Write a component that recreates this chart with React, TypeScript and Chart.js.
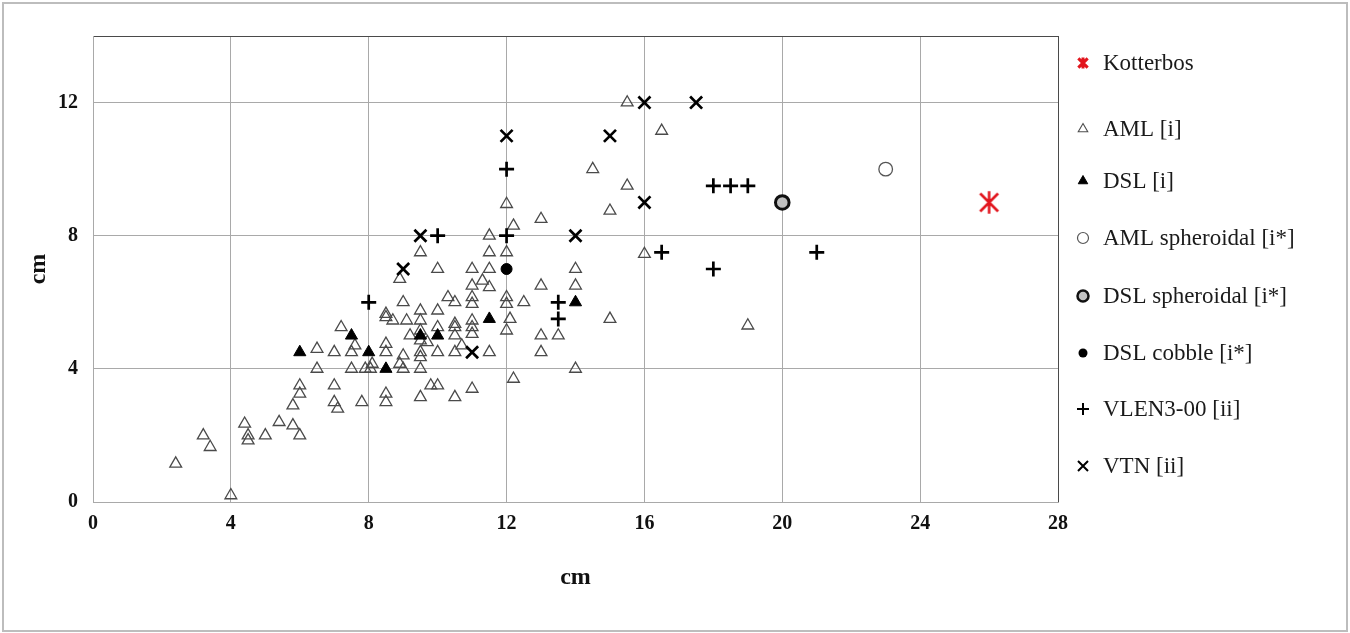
import React, { useEffect, useRef } from 'react';
import { Chart, registerables } from 'chart.js';

Chart.register(...registerables);

type Pt = [number, number];

// Series values (length, width in cm)
const kotterbos: Pt[] = [[26, 9]];

const amlI: Pt[] = [
  [2.4, 1.15], [3.2, 2.0], [3.4, 1.65], [4, 0.2], [4.4, 2.35], [4.5, 2.0], [4.5, 1.85],
  [5, 2.0], [5.4, 2.4], [5.8, 2.3], [5.8, 2.9], [6, 2.0], [6, 3.25], [6, 3.5],
  [6.5, 4.0], [6.5, 4.6], [7, 3.0], [7, 3.5], [7, 4.5], [7.1, 2.8], [7.2, 5.25],
  [7.5, 4.0], [7.5, 4.5], [7.6, 4.7], [7.8, 3.0], [7.9, 4.0], [8.05, 4.0], [8.1, 4.15],
  [8.5, 3.0], [8.5, 3.25], [8.5, 4.5], [8.5, 4.75], [8.5, 5.55], [8.5, 5.65], [8.7, 5.45],
  [8.9, 4.15], [8.9, 6.7], [9, 4.0], [9, 4.4], [9, 6.0], [9.1, 5.45], [9.2, 5.0],
  [9.5, 3.15], [9.5, 4.0], [9.5, 4.35], [9.5, 4.5], [9.5, 4.85], [9.5, 5.15], [9.5, 5.45],
  [9.5, 5.75], [9.5, 7.5], [9.7, 4.8], [9.8, 3.5], [10, 3.5], [10, 4.5], [10, 5.25],
  [10, 5.75], [10, 7.0], [10.3, 6.15], [10.5, 3.15], [10.5, 4.5], [10.5, 5.0], [10.5, 5.25],
  [10.5, 5.35], [10.5, 6.0], [10.7, 4.7], [11, 3.4], [11, 5.05], [11, 5.25], [11, 5.45],
  [11, 5.95], [11, 6.15], [11, 6.5], [11, 7.0], [11.3, 6.65], [11.5, 4.5], [11.5, 6.45],
  [11.5, 7.0], [11.5, 7.5], [11.5, 8.0], [12, 5.15], [12, 5.95], [12, 6.15], [12, 7.5],
  [12, 8.95], [12.1, 5.5], [12.2, 3.7], [12.2, 8.3], [12.5, 6.0], [13, 4.5], [13, 5.0],
  [13, 6.5], [13, 8.5], [13.5, 5.0], [14, 4.0], [14, 6.5], [14, 7.0], [14.5, 10.0],
  [15, 5.5], [15, 8.75], [15.5, 9.5], [15.5, 12.0], [16, 7.45], [16.5, 11.15], [19, 5.3],
];

const dslI: Pt[] = [
  [6, 4.5], [7.5, 5.0], [8, 4.5], [8.5, 4.0], [9.5, 5.0], [10, 5.0], [11.5, 5.5], [14, 6.0],
];

const amlSpheroidal: Pt[] = [[23, 10]];
const dslSpheroidal: Pt[] = [[20, 9]];
const dslCobble: Pt[] = [[12, 7]];

const vlen: Pt[] = [
  [8, 6], [10, 8], [12, 8], [12, 10], [13.5, 5.5], [13.5, 6], [16.5, 7.5],
  [18, 7], [18, 9.5], [18.5, 9.5], [19, 9.5], [21, 7.5],
];

const vtn: Pt[] = [
  [9, 7], [9.5, 8], [11, 4.5], [12, 11], [14, 8], [15, 11], [16, 9], [16, 12], [17.5, 12],
];

const legendLabels = [
  'Kotterbos', 'AML [i]', 'DSL [i]', 'AML spheroidal [i*]',
  'DSL spheroidal [i*]', 'DSL cobble [i*]', 'VLEN3-00 [ii]', 'VTN [ii]',
];

const xTicks = [0, 4, 8, 12, 16, 20, 24, 28];
const yTicks = [0, 4, 8, 12];

const RED = '#e2161e';
const GRID = '#a9a9a9';
const DARK = '#4a4a4a';
const SERIF = '"Liberation Serif", "Times New Roman", serif';

function makeAsterisk(size: number, color: string, lw: number, spread: number): HTMLCanvasElement {
  const c = document.createElement('canvas');
  c.width = size;
  c.height = size;
  const g = c.getContext('2d')!;
  const m = size / 2;
  const r = size / 2 - lw / 2;
  g.strokeStyle = color;
  g.lineWidth = lw;
  g.lineCap = 'butt';
  g.beginPath();
  g.moveTo(m, m - r);
  g.lineTo(m, m + r);
  const d = r * spread;
  g.moveTo(m - d, m - d);
  g.lineTo(m + d, m + d);
  g.moveTo(m + d, m - d);
  g.lineTo(m - d, m + d);
  g.stroke();
  return c;
}

function toXY(pts: Pt[]) {
  return pts.map(([x, y]) => ({ x, y }));
}

function drawLegendMarker(ctx: CanvasRenderingContext2D, i: number, x: number, y: number, star: HTMLCanvasElement) {
  ctx.save();
  ctx.lineJoin = 'miter';
  switch (i) {
    case 0:
      ctx.drawImage(star, x - star.width / 2, y - star.height / 2);
      break;
    case 1:
    case 2: {
      const r = 5.5;
      ctx.beginPath();
      ctx.moveTo(x, y - r);
      ctx.lineTo(x + r * 0.866, y + r * 0.5);
      ctx.lineTo(x - r * 0.866, y + r * 0.5);
      ctx.closePath();
      if (i === 1) {
        ctx.strokeStyle = '#4d4d4d';
        ctx.lineWidth = 1.1;
        ctx.stroke();
      } else {
        ctx.fillStyle = '#000';
        ctx.fill();
        ctx.strokeStyle = '#000';
        ctx.lineWidth = 1;
        ctx.stroke();
      }
      break;
    }
    case 3:
      ctx.beginPath();
      ctx.arc(x, y, 5.5, 0, Math.PI * 2);
      ctx.strokeStyle = '#555';
      ctx.lineWidth = 1.2;
      ctx.stroke();
      break;
    case 4:
      ctx.beginPath();
      ctx.arc(x, y, 5.5, 0, Math.PI * 2);
      ctx.fillStyle = '#c2c2c2';
      ctx.fill();
      ctx.strokeStyle = '#111';
      ctx.lineWidth = 2.5;
      ctx.stroke();
      break;
    case 5:
      ctx.beginPath();
      ctx.arc(x, y, 4.5, 0, Math.PI * 2);
      ctx.fillStyle = '#000';
      ctx.fill();
      break;
    case 6:
      ctx.beginPath();
      ctx.moveTo(x - 6, y);
      ctx.lineTo(x + 6, y);
      ctx.moveTo(x, y - 6);
      ctx.lineTo(x, y + 6);
      ctx.strokeStyle = '#000';
      ctx.lineWidth = 2;
      ctx.stroke();
      break;
    case 7:
      ctx.beginPath();
      ctx.moveTo(x - 5, y - 5);
      ctx.lineTo(x + 5, y + 5);
      ctx.moveTo(x + 5, y - 5);
      ctx.lineTo(x - 5, y + 5);
      ctx.strokeStyle = '#000';
      ctx.lineWidth = 2;
      ctx.stroke();
      break;
  }
  ctx.restore();
}

export default function App() {
  const ref = useRef<HTMLCanvasElement | null>(null);

  useEffect(() => {
    const canvas = ref.current;
    if (!canvas) return;
    const bigStar = makeAsterisk(25, RED, 2.6, 0.8);
    const smallStar = makeAsterisk(14, RED, 3, 0.85);

    const framePlugin = {
      id: 'frame',
      beforeDraw(chart: any) {
        const ctx = chart.ctx as CanvasRenderingContext2D;
        ctx.save();
        ctx.fillStyle = '#ffffff';
        ctx.fillRect(0, 0, chart.width, chart.height);
        ctx.strokeStyle = '#bdbdbd';
        ctx.lineWidth = 2;
        ctx.strokeRect(3, 3, chart.width - 6, chart.height - 5);
        ctx.restore();
      },
      afterDraw(chart: any) {
        const ctx = chart.ctx as CanvasRenderingContext2D;
        ctx.save();
        ctx.font = `23px ${SERIF}`;
        ctx.fillStyle = '#1a1a1a';
        ctx.textBaseline = 'middle';
        ctx.textAlign = 'left';
        const ys = [63, 129, 181, 238, 296, 353, 409, 466];
        legendLabels.forEach((label, i) => {
          drawLegendMarker(ctx, i, 1083, ys[i], smallStar);
          ctx.fillText(label, 1103, ys[i] + 1);
        });
        ctx.restore();
      },
    };

    const tickFont = { family: SERIF, size: 20, weight: 'bold' as const };
    const titleFont = { family: SERIF, size: 24, weight: 'bold' as const };

    const chart = new Chart(canvas, {
      type: 'scatter',
      data: {
        datasets: [
          {
            label: legendLabels[1],
            data: toXY(amlI),
            pointStyle: 'triangle',
            pointRadius: 6.8,
            borderColor: '#4a4a4a',
            backgroundColor: 'rgba(255,255,255,0)',
            borderWidth: 1.3,
            order: 8,
          },
          {
            label: legendLabels[2],
            data: toXY(dslI),
            pointStyle: 'triangle',
            pointRadius: 7,
            borderColor: '#000',
            backgroundColor: '#000',
            borderWidth: 1,
            order: 7,
          },
          {
            label: legendLabels[3],
            data: toXY(amlSpheroidal),
            pointStyle: 'circle',
            pointRadius: 6.8,
            borderColor: '#555',
            backgroundColor: '#fff',
            borderWidth: 1.3,
            order: 6,
          },
          {
            label: legendLabels[4],
            data: toXY(dslSpheroidal),
            pointStyle: 'circle',
            pointRadius: 6.8,
            borderColor: '#111',
            backgroundColor: '#c2c2c2',
            borderWidth: 3,
            order: 5,
          },
          {
            label: legendLabels[5],
            data: toXY(dslCobble),
            pointStyle: 'circle',
            pointRadius: 5.5,
            borderColor: '#000',
            backgroundColor: '#000',
            borderWidth: 1,
            order: 4,
          },
          {
            label: legendLabels[6],
            data: toXY(vlen),
            pointStyle: 'cross',
            pointRadius: 7.5,
            borderColor: '#000',
            backgroundColor: '#000',
            borderWidth: 2.7,
            order: 3,
          },
          {
            label: legendLabels[7],
            data: toXY(vtn),
            pointStyle: 'crossRot',
            pointRadius: 8.5,
            borderColor: '#000',
            backgroundColor: '#000',
            borderWidth: 2.7,
            order: 2,
          },
          {
            label: legendLabels[0],
            data: toXY(kotterbos),
            pointStyle: bigStar as any,
            pointRadius: 12,
            borderColor: RED,
            backgroundColor: RED,
            order: 1,
          },
        ],
      },
      options: {
        animation: false,
        responsive: false,
        devicePixelRatio: 1,
        events: [],
        layout: { padding: { left: 0, top: 36, right: 292, bottom: 0 } },
        plugins: {
          legend: { display: false },
          tooltip: { enabled: false },
        },
        scales: {
          x: {
            type: 'linear',
            min: xTicks[0],
            max: xTicks[xTicks.length - 1],
            afterBuildTicks: (s: any) => {
              s.ticks = xTicks.map((v) => ({ value: v }));
            },
            afterFit: (s: any) => {
              s.height = 131;
            },
            ticks: {
              font: tickFont,
              color: '#111',
              padding: 10,
              maxRotation: 0,
              autoSkip: false,
            },
            grid: {
              drawTicks: false,
              lineWidth: 1,
              color: (c: any) => (c.tick && c.tick.value === 28 ? DARK : GRID),
            },
            border: { display: true, color: GRID, width: 1 },
            title: {
              display: true,
              text: 'cm',
              font: titleFont,
              color: '#111',
              padding: { top: 0, bottom: 41 },
            },
          },
          y: {
            type: 'linear',
            min: 0,
            max: 14,
            afterBuildTicks: (s: any) => {
              s.ticks = [...yTicks, 14].map((v) => ({ value: v }));
            },
            afterFit: (s: any) => {
              s.width = 93;
            },
            ticks: {
              font: tickFont,
              color: '#111',
              padding: 15,
              autoSkip: false,
              callback: (v: any) => (v === 14 ? '' : String(v)),
            },
            grid: {
              drawTicks: false,
              lineWidth: 1,
              color: (c: any) => (c.tick && c.tick.value === 14 ? DARK : GRID),
            },
            border: { display: true, color: GRID, width: 1 },
            title: {
              display: true,
              text: 'cm',
              font: titleFont,
              color: '#111',
              padding: { top: 24, bottom: 0 },
            },
          },
        },
      },
      plugins: [framePlugin],
    } as any);

    return () => {
      chart.destroy();
    };
  }, []);

  return (
    <div style={{ position: 'fixed', left: 0, top: 0, width: 1350, height: 633, background: '#fff' }}>
      <canvas ref={ref} width={1350} height={633} style={{ display: 'block', width: 1350, height: 633 }} />
    </div>
  );
}
